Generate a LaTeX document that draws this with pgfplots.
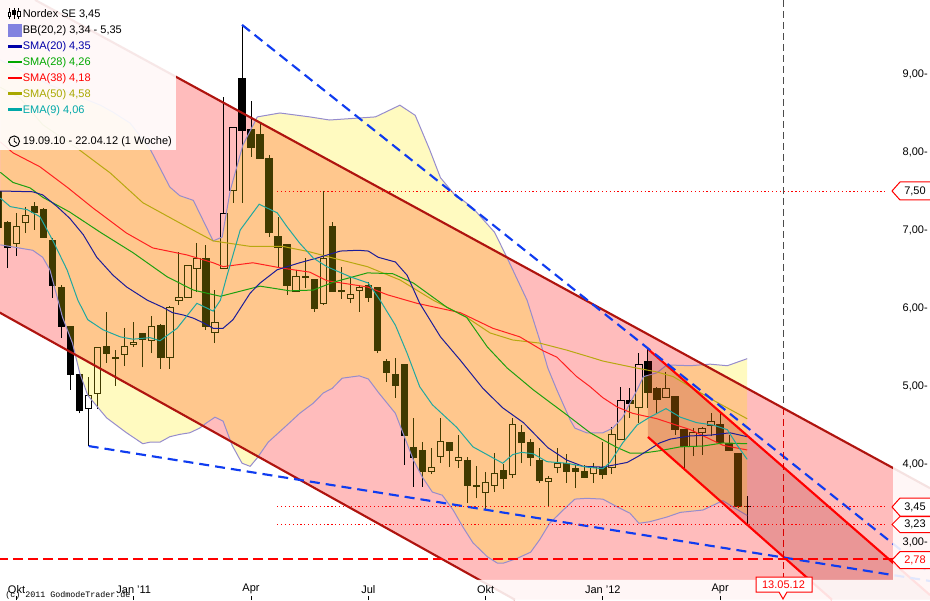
\documentclass[border=0pt]{standalone}
\usepackage{fontspec}
\setmainfont{Liberation Sans}
\newfontfamily\cfont{Liberation Mono}
\usepackage{pgfplots}
\usepackage{pgfplotstable}
\pgfplotsset{compat=1.18}

\definecolor{chanpink}{RGB}{255,188,188}
\definecolor{bandy}{RGB}{255,235,3}
\definecolor{bandline}{RGB}{150,140,205}
\definecolor{chandark}{RGB}{150,0,0}
\definecolor{chanline}{RGB}{175,20,15}
\definecolor{dashblue}{RGB}{15,60,240}
\definecolor{cblue}{RGB}{28,28,152}
\definecolor{cgreen}{RGB}{30,160,16}
\definecolor{cred}{RGB}{255,32,32}
\definecolor{colive}{RGB}{184,168,16}
\definecolor{cteal}{RGB}{32,168,160}
\definecolor{lblue}{RGB}{0,0,168}
\definecolor{lgreen}{RGB}{0,168,0}
\definecolor{lred}{RGB}{255,0,0}
\definecolor{lolive}{RGB}{168,168,0}
\definecolor{lteal}{RGB}{0,168,168}
\definecolor{bbswatch}{RGB}{130,130,224}

% moving averages: week index, price
\pgfplotstableread{
i v
-0.8 7.50
2.8 7.49
3.9 7.45
5.5 7.30
6.9 7.15
8.4 6.94
9.9 6.65
11.7 6.42
13.2 6.27
15.5 6.10
17.2 6.01
18.3 5.94
19.5 5.91
20.6 5.87
21.7 5.81
22.8 5.74
23.9 5.74
25.0 5.85
26.9 6.19
28.0 6.32
29.9 6.49
32.4 6.58
34.3 6.64
36.9 6.73
38.9 6.74
40.0 6.73
41.1 6.65
43.0 6.59
44.3 6.42
45.7 6.06
48.0 5.63
50.2 5.33
52.7 4.97
54.9 4.72
57.2 4.53
59.9 4.21
62.0 4.05
63.8 3.97
66.0 3.96
68.7 4.02
70.1 4.11
72.3 4.27
73.5 4.32
75.7 4.36
77.9 4.37
80.1 4.40
82.0 4.35
}\smaA
\pgfplotstableread{
i v
-0.8 7.74
0.6 7.61
2.5 7.54
3.9 7.42
6.9 7.23
10.3 6.97
13.9 6.71
17.7 6.40
20.6 6.23
23.6 6.15
28.0 6.28
31.3 6.22
33.9 6.23
36.1 6.33
39.9 6.45
42.7 6.44
45.0 6.32
48.7 6.01
50.9 5.88
53.2 5.50
55.4 5.23
58.3 4.95
62.0 4.63
64.6 4.40
66.0 4.31
67.6 4.21
69.0 4.14
70.5 4.14
72.3 4.17
74.6 4.22
77.1 4.23
79.3 4.27
82.0 4.26
}\smaB
\pgfplotstableread{
i v
-0.8 8.13
0.6 7.99
3.6 7.81
6.6 7.55
9.5 7.28
13.2 6.96
16.1 6.77
19.9 6.68
22.8 6.58
23.9 6.53
27.2 6.58
30.5 6.51
33.5 6.46
35.4 6.35
39.9 6.27
42.1 6.17
45.4 6.06
50.2 5.94
53.8 5.74
56.8 5.63
59.4 5.45
60.9 5.37
63.1 5.12
64.6 4.99
66.0 4.85
67.6 4.73
69.3 4.65
72.0 4.58
75.7 4.44
79.3 4.24
82.0 4.18
}\smaC
\pgfplotstableread{
i v
-0.8 8.83
1.4 8.69
3.9 8.35
7.7 8.05
11.4 7.73
15.0 7.35
19.1 7.09
22.8 6.86
26.9 6.79
30.5 6.79
33.5 6.72
36.1 6.64
39.9 6.53
43.5 6.36
47.2 6.10
50.9 5.88
53.5 5.68
56.0 5.59
59.0 5.55
62.0 5.46
64.6 5.37
66.0 5.32
69.3 5.24
72.0 5.18
73.8 5.12
75.7 4.99
78.2 4.82
82.0 4.58
}\smaD
\pgfplotstableread{
i v
-0.8 7.41
0.3 7.30
2.2 7.26
3.6 7.17
5.0 6.87
6.6 6.49
7.8 6.10
8.9 5.85
10.6 5.72
12.5 5.63
13.9 5.60
15.8 5.62
16.9 5.58
18.8 5.74
21.0 6.06
22.8 5.96
23.6 6.10
24.3 6.40
25.8 7.00
27.9 7.33
29.9 7.22
31.0 7.04
32.4 6.83
33.9 6.64
35.4 6.53
38.0 6.40
40.0 6.32
41.3 6.10
43.0 5.78
44.3 5.42
45.7 4.99
47.1 4.76
49.8 4.47
51.6 4.22
53.8 4.08
54.9 4.01
56.0 4.12
57.0 4.15
58.3 4.13
59.8 4.03
62.0 4.01
64.2 3.96
66.0 3.94
66.8 4.02
68.2 4.27
69.8 4.50
71.2 4.60
73.0 4.71
74.6 4.60
76.4 4.53
78.2 4.50
79.8 4.44
80.9 4.24
82.0 4.06
}\emaA
% Bollinger band edges
\pgfplotstableread{
i v
-0.8 9.18
4.7 8.86
10.3 8.60
11.7 8.51
13.6 8.37
15.8 8.04
18.0 7.55
19.1 7.44
20.6 7.38
22.8 6.86
23.8 6.91
24.7 7.51
26.1 8.09
27.7 8.45
30.2 8.50
33.5 8.45
35.7 8.41
40.8 8.45
43.5 8.60
45.2 8.47
46.8 8.03
48.0 7.67
49.8 7.42
50.5 7.38
51.6 7.28
54.0 6.97
55.4 6.64
57.6 6.10
59.0 5.59
59.9 5.23
60.9 4.95
62.4 4.56
62.9 4.46
64.2 4.40
66.0 4.40
67.1 4.46
68.2 4.60
69.0 4.78
69.8 4.95
70.5 5.12
72.0 5.17
73.1 5.27
75.7 5.26
77.9 5.28
79.8 5.26
82.0 5.35
}\bbUp
\pgfplotstableread{
i v
-0.8 6.81
2.8 6.74
3.9 6.65
4.7 6.49
6.1 5.88
7.2 5.55
8.0 5.17
8.9 4.88
11.0 4.59
13.2 4.40
15.0 4.26
15.8 4.28
16.9 4.28
18.0 4.35
19.1 4.38
20.2 4.40
21.3 4.46
22.1 4.53
23.0 4.60
23.9 4.55
24.9 4.24
26.0 4.01
26.9 3.97
27.7 4.08
28.9 4.28
31.0 4.50
32.4 4.65
33.9 4.78
35.0 4.91
36.0 4.97
37.1 5.10
39.0 5.13
40.0 5.09
41.1 4.92
43.0 4.65
44.0 4.35
45.0 4.05
46.0 3.83
47.1 3.64
48.2 3.60
49.4 3.41
50.5 3.19
51.6 2.99
53.2 2.81
54.3 2.73
55.0 2.73
56.5 2.79
58.0 2.87
59.0 3.03
60.1 3.24
61.6 3.41
62.9 3.55
64.2 3.56
66.0 3.55
67.6 3.45
69.0 3.37
70.0 3.24
71.2 3.26
73.1 3.32
74.6 3.38
77.1 3.41
78.2 3.47
79.3 3.53
80.4 3.45
82.0 3.34
}\bbLo
% the band as one closed outline: upper edge, then lower edge backwards
\pgfplotstableread{
i v
-0.8 9.18
4.7 8.86
10.3 8.60
11.7 8.51
13.6 8.37
15.8 8.04
18.0 7.55
19.1 7.44
20.6 7.38
22.8 6.86
23.8 6.91
24.7 7.51
26.1 8.09
27.7 8.45
30.2 8.50
33.5 8.45
35.7 8.41
40.8 8.45
43.5 8.60
45.2 8.47
46.8 8.03
48.0 7.67
49.8 7.42
50.5 7.38
51.6 7.28
54.0 6.97
55.4 6.64
57.6 6.10
59.0 5.59
59.9 5.23
60.9 4.95
62.4 4.56
62.9 4.46
64.2 4.40
66.0 4.40
67.1 4.46
68.2 4.60
69.0 4.78
69.8 4.95
70.5 5.12
72.0 5.17
73.1 5.27
75.7 5.26
77.9 5.28
79.8 5.26
82.0 5.35
82.0 3.34
80.4 3.45
79.3 3.53
78.2 3.47
77.1 3.41
74.6 3.38
73.1 3.32
71.2 3.26
70.0 3.24
69.0 3.37
67.6 3.45
66.0 3.55
64.2 3.56
62.9 3.55
61.6 3.41
60.1 3.24
59.0 3.03
58.0 2.87
56.5 2.79
55.0 2.73
54.3 2.73
53.2 2.81
51.6 2.99
50.5 3.19
49.4 3.41
48.2 3.60
47.1 3.64
46.0 3.83
45.0 4.05
44.0 4.35
43.0 4.65
41.1 4.92
40.0 5.09
39.0 5.13
37.1 5.10
36.0 4.97
35.0 4.91
33.9 4.78
32.4 4.65
31.0 4.50
28.9 4.28
27.7 4.08
26.9 3.97
26.0 4.01
24.9 4.24
23.9 4.55
23.0 4.60
22.1 4.53
21.3 4.46
20.2 4.40
19.1 4.38
18.0 4.35
16.9 4.28
15.8 4.28
15.0 4.26
13.2 4.40
11.0 4.59
8.9 4.88
8.0 5.17
7.2 5.55
6.1 5.88
4.7 6.49
3.9 6.65
2.8 6.74
-0.8 6.81
}\bbPoly

% \candle{body style}{week}{low}{body low}{body high}{high}
\newcommand{\candle}[6]{%
  \pgfmathsetmacro\xl{#2-0.35}\pgfmathsetmacro\xr{#2+0.35}%
  \addplot[black,line width=0.75pt,forget plot] coordinates {(#2,#3) (#2,#4)};
  \addplot[black,line width=0.75pt,forget plot] coordinates {(#2,#5) (#2,#6)};
  \addplot[#1,line width=0.75pt,forget plot] coordinates {(\xl,#4) (\xr,#4) (\xr,#5) (\xl,#5)} -- cycle;}
\newcommand{\dn}[5]{\candle{draw=black,fill=black}{#1}{#2}{#3}{#4}{#5}}
\newcommand{\up}[5]{\candle{draw=black}{#1}{#2}{#3}{#4}{#5}}

\pgfplotsset{
  mline/.style={legend image code/.code={\draw[line width=1.9pt,#1] (0pt,0pt) -- (10pt,0pt);}},
  labelfont/.style={font=\fontsize{8.25pt}{10pt}\selectfont},
}

\begin{document}
\begin{tikzpicture}
\begin{axis}[
  at={(0,0)}, anchor=south west,
  scale only axis, width=697.5pt, height=450pt,
  xmin=-0.8315, xmax=102.27, ymin=2.2564, ymax=9.9487,
  axis on top,
  axis line style={draw=none},
  tick align=inside, major tick length=3pt,
  xtick pos=bottom, ytick pos=right,
  xtick={1,14,27,40,53,66,79},
  xticklabels={Okt,{Jan '11},Apr,Jul,Okt,{Jan '12},Apr},
  xtick style={draw=black,line width=0.75pt},
  xticklabel style={labelfont,anchor=south,inner sep=0pt,yshift=4.5pt},
  ytick={3,4,5,6,7,8,9},
  ytick style={draw=none},
  yticklabel pos=right,
  yticklabel={\pgfmathprintnumber[fixed,fixed zerofill,precision=2,use comma,assume math mode=true]{\tick}-},
  yticklabel style={labelfont,anchor=east,inner sep=0pt,xshift=-1.5pt},
  legend style={at={(0,1)},anchor=north west,draw=none,fill=none,
    labelfont,inner xsep=5pt,inner ysep=5.6pt,row sep=3.35pt,
    nodes={inner sep=0pt,text depth=1.5pt,text height=7pt}},
  legend cell align=left,
  legend columns=1,
]

% trend channel underneath everything
\addplot[draw=none,fill=chanpink,forget plot] coordinates {
  (-1,5.95) (-1,9.95) (3.05,9.95) (102.27,3.69) (102.27,2.26) (56.26,2.26)} -- cycle;

% weekly candles
\dn{-1}{6.93}{7.03}{7.49}{7.55}
\dn{0}{6.51}{6.77}{7.10}{7.12}
\up{1}{6.67}{6.83}{7.04}{7.22}
\up{2}{6.96}{7.10}{7.18}{7.30}
\dn{3}{7.00}{7.23}{7.30}{7.36}
\dn{4}{6.91}{6.91}{7.26}{7.28}
\dn{5}{6.13}{6.29}{6.87}{6.90}
\dn{6}{5.62}{5.76}{6.26}{6.29}
\dn{7}{4.95}{5.15}{5.76}{5.76}
\dn{8}{4.65}{4.69}{5.15}{5.15}
\up{9}{4.23}{4.71}{4.88}{5.12}
\up{10}{4.71}{4.91}{5.49}{5.50}
\dn{11}{5.30}{5.42}{5.50}{5.95}
\dn{12}{5.00}{5.35}{5.36}{5.46}
\up{13}{5.26}{5.40}{5.50}{5.74}
\up{14}{5.50}{5.53}{5.56}{5.82}
\dn{15}{5.24}{5.60}{5.67}{5.68}
\up{16}{5.42}{5.58}{5.76}{5.90}
\dn{17}{5.22}{5.37}{5.78}{5.79}
\up{18}{5.22}{5.37}{6.01}{6.03}
\up{19}{6.04}{6.09}{6.13}{6.72}
\up{20}{6.13}{6.13}{6.55}{6.55}
\up{21}{6.21}{6.50}{6.63}{6.83}
\dn{22}{5.72}{5.76}{6.64}{6.81}
\up{23}{5.55}{5.69}{5.81}{6.23}
\up{24}{6.50}{6.50}{7.21}{8.71}
\up{25}{7.35}{7.50}{8.32}{8.32}
\dn{26}{7.35}{8.27}{8.94}{9.63}
\dn{27}{7.94}{8.06}{8.29}{8.65}
\dn{28}{7.92}{7.92}{8.23}{8.37}
\dn{29}{6.91}{6.97}{7.92}{7.96}
\dn{30}{6.53}{6.77}{6.92}{7.17}
\dn{31}{6.17}{6.29}{6.82}{6.82}
\up{32}{6.21}{6.21}{6.40}{6.49}
\dn{33}{6.26}{6.39}{6.40}{6.64}
\dn{34}{5.95}{5.99}{6.37}{6.37}
\up{35}{6.04}{6.06}{6.63}{7.50}
\dn{36}{6.21}{6.21}{7.05}{7.10}
\dn{37}{6.12}{6.21}{6.22}{6.53}
\up{38}{6.06}{6.12}{6.17}{6.40}
\up{39}{5.95}{6.22}{6.26}{6.29}
\dn{40}{6.08}{6.14}{6.29}{6.33}
\dn{41}{5.42}{5.45}{6.26}{6.26}
\dn{42}{5.05}{5.17}{5.31}{5.35}
\dn{43}{4.85}{5.01}{5.15}{5.36}
\dn{44}{3.99}{4.37}{5.27}{5.27}
\dn{45}{3.71}{4.08}{4.21}{4.59}
\dn{46}{3.71}{3.90}{4.17}{4.28}
\up{47}{3.87}{3.90}{3.96}{4.21}
\up{48}{4.01}{4.09}{4.29}{4.59}
\dn{49}{3.96}{4.17}{4.28}{4.28}
\up{50}{3.95}{4.05}{4.08}{4.37}
\dn{51}{3.50}{3.73}{4.04}{4.09}
\up{52}{3.56}{3.71}{3.73}{3.97}
\up{53}{3.42}{3.63}{3.76}{3.90}
\up{54}{3.64}{3.73}{3.88}{4.14}
\dn{55}{3.68}{3.81}{3.92}{4.00}
\up{56}{3.82}{3.87}{4.51}{4.59}
\dn{57}{4.01}{4.27}{4.41}{4.50}
\dn{58}{3.97}{4.08}{4.27}{4.32}
\dn{59}{3.76}{3.79}{4.05}{4.21}
\up{60}{3.45}{3.78}{3.82}{3.85}
\up{61}{3.88}{3.95}{4.01}{4.21}
\dn{62}{3.76}{3.90}{4.01}{4.13}
\dn{63}{3.69}{3.90}{3.94}{3.99}
\dn{64}{3.82}{3.83}{3.91}{3.99}
\up{65}{3.76}{3.88}{3.96}{4.01}
\dn{66}{3.81}{3.86}{3.96}{4.28}
\up{67}{3.87}{3.96}{4.38}{4.47}
\up{68}{4.32}{4.32}{4.82}{4.99}
\dn{69}{4.59}{4.78}{4.82}{4.97}
\up{70}{4.53}{4.73}{5.27}{5.42}
\dn{71}{4.72}{4.92}{5.31}{5.47}
\dn{72}{4.64}{4.83}{4.97}{4.99}
\up{73}{4.85}{4.85}{4.97}{5.18}
\dn{74}{4.37}{4.44}{4.86}{4.87}
\dn{75}{3.95}{4.22}{4.44}{4.44}
\up{76}{4.10}{4.23}{4.40}{4.46}
\up{77}{4.12}{4.40}{4.45}{4.47}
\up{78}{4.36}{4.49}{4.54}{4.65}
\dn{79}{4.27}{4.27}{4.50}{4.65}
\dn{80}{4.17}{4.17}{4.26}{4.37}
\dn{81}{3.44}{3.45}{4.13}{4.13}
\dn{82}{3.23}{3.45}{3.46}{3.59}

% Bollinger band: see-through yellow over the candles, then its edges
\addplot[fill=bandy,fill opacity=0.25,draw=none,forget plot] table[x=i,y=v] {\bbPoly} -- cycle;
\addplot[color=bandline,line width=0.75pt,forget plot] table[x=i,y=v] {\bbUp};
\addplot[color=bandline,line width=0.75pt,forget plot] table[x=i,y=v] {\bbLo};

% darker short channel
\addplot[draw=none,fill=chandark,fill opacity=0.2,forget plot] coordinates {
  (71,5.474) (102.27,2.32) (102.27,2.26) (91.4,2.26) (71,4.346)} -- cycle;

% moving averages
\addplot[color=colive,line width=0.75pt,forget plot] table[x=i,y=v] {\smaD};
\addplot[color=cred,line width=0.75pt,forget plot] table[x=i,y=v] {\smaC};
\addplot[color=cgreen,line width=0.75pt,forget plot] table[x=i,y=v] {\smaB};
\addplot[color=cblue,line width=0.75pt,forget plot] table[x=i,y=v] {\smaA};
\addplot[color=cteal,line width=0.75pt,forget plot] table[x=i,y=v] {\emaA};

% channel edges
\addplot[color=chanline,line width=1.6pt,forget plot] coordinates {(3.05,9.95) (102.27,3.69)};
\addplot[color=chanline,line width=1.6pt,forget plot] coordinates {(-1,5.95) (56.26,2.26)};
\addplot[color=red,line width=1.6pt,forget plot] coordinates {(71,5.474) (102.27,2.32)};
\addplot[color=red,line width=1.6pt,forget plot] coordinates {(71,4.346) (91.4,2.26)};

% blue trend lines
\addplot[color=dashblue,line width=1.6pt,dash pattern=on 7.5pt off 4.5pt,forget plot] coordinates {(26,9.63) (102.27,2.60)};
\addplot[color=dashblue,line width=1.6pt,dash pattern=on 7.5pt off 4.5pt,forget plot] coordinates {(9,4.23) (102.27,2.50)};

% horizontal levels
\addplot[color=red,line width=0.7pt,dash pattern=on 0.9pt off 2pt,forget plot] coordinates {(29.9,7.50) (97.6,7.50)};
\addplot[color=red,line width=0.7pt,dash pattern=on 0.9pt off 2pt,forget plot] coordinates {(29.9,3.45) (97.6,3.45)};
\addplot[color=red,line width=0.7pt,dash pattern=on 0.9pt off 2pt,forget plot] coordinates {(29.9,3.23) (97.6,3.23)};
\addplot[color=red,line width=1.5pt,dash pattern=on 7.5pt off 3.75pt,forget plot] coordinates {(-1,2.78) (98.17,2.78)};

% date marker
\addplot[color=black!70,line width=0.75pt,dash pattern=on 5.25pt off 3pt,forget plot] coordinates {(86,9.95) (86,4.72)};
\addplot[color=red!85!black,line width=0.75pt,dash pattern=on 5.25pt off 3pt,forget plot] coordinates {(86,4.72) (86,2.51)};

% white veil along the right and bottom margins, and behind the legend
\addplot[draw=none,fill=white,fill opacity=0.88,forget plot] coordinates {
  (98.17,9.95) (102.3,9.95) (102.3,2.25) (-1,2.25) (-1,2.513) (98.17,2.513)} -- cycle;
\addplot[draw=none,fill=white,fill opacity=0.9,forget plot] coordinates {
  (-1,9.95) (18.68,9.95) (18.68,8.026) (-1,8.026)} -- cycle;

% legend
\addlegendimage{legend image code/.code={
  \draw[line width=0.6pt] (1pt,-4pt)--(1pt,4pt) (4.5pt,-4pt)--(4.5pt,4pt) (8pt,-4pt)--(8pt,4pt);
  \draw[line width=0.6pt,fill=white] (0pt,-2pt) rectangle (2pt,1pt);
  \draw[line width=0.6pt,fill=black] (3.5pt,-1pt) rectangle (5.5pt,2.5pt);
  \draw[line width=0.6pt,fill=white] (7pt,-2.5pt) rectangle (9pt,1.5pt);}}
\addlegendentry{Nordex SE 3,45}
\addlegendimage{legend image code/.code={\fill[bbswatch] (0pt,-4.5pt) rectangle (10pt,4.5pt);}}
\addlegendentry{BB(20,2) 3,34 - 5,35}
\addlegendimage{mline=lblue}
\addlegendentry{\textcolor{lblue}{SMA(20) 4,35}}
\addlegendimage{mline=lgreen}
\addlegendentry{\textcolor{lgreen}{SMA(28) 4,26}}
\addlegendimage{mline=lred}
\addlegendentry{\textcolor{lred}{SMA(38) 4,18}}
\addlegendimage{mline=lolive}
\addlegendentry{\textcolor{lolive}{SMA(50) 4,58}}
\addlegendimage{mline=lteal}
\addlegendentry{\textcolor{lteal}{EMA(9) 4,06}}
\addlegendimage{empty legend}
\addlegendentry{}
\addlegendimage{legend image code/.code={
  \draw[line width=0.7pt] (4.5pt,0pt) circle (4pt);
  \draw[line width=0.6pt] (4.5pt,2.5pt)--(4.5pt,0pt)--(6.5pt,-1.5pt);}}
\addlegendentry{19.09.10 - 22.04.12 (1 Woche)}
\end{axis}

% price tags and date flag, placed in picture pixels
\pgfresetboundingbox
\useasboundingbox (0,0) rectangle (697.5pt,450pt);
\begin{scope}[x=0.75pt,y=-0.75pt,shift={(0pt,450pt)},tag/.style={draw=red,fill=white,line width=0.75pt}]
  \foreach \py/\txt/\col/\hh in {191/{7,50}/black/9,507/{3,45}/black/9,524.5/{3,23}/black/8,560/{2,78}/red/8.5}{
    \filldraw[tag] (931,\py-\hh) -- (900,\py-\hh) -- (892,\py) -- (900,\py+\hh) -- (931,\py+\hh);
    \node[anchor=west,inner sep=0pt,text=\col,font=\fontsize{8.25pt}{10pt}\selectfont] at (904,\py) {\txt};
  }
  \filldraw[tag] (756,577) -- (812,577) -- (812,592) -- (787,592) -- (783,599) -- (779,592) -- (756,592) -- cycle;
  \node[inner sep=0pt,text=red,font=\fontsize{8.25pt}{10pt}\selectfont] at (783.5,584.5) {13.05.12};
  \node[anchor=base west,inner sep=0pt,font=\cfont\fontsize{6.25pt}{8pt}\selectfont] at (5,597) {(c) 2011 GodmodeTrader.de};
\end{scope}
\end{tikzpicture}
\end{document}
